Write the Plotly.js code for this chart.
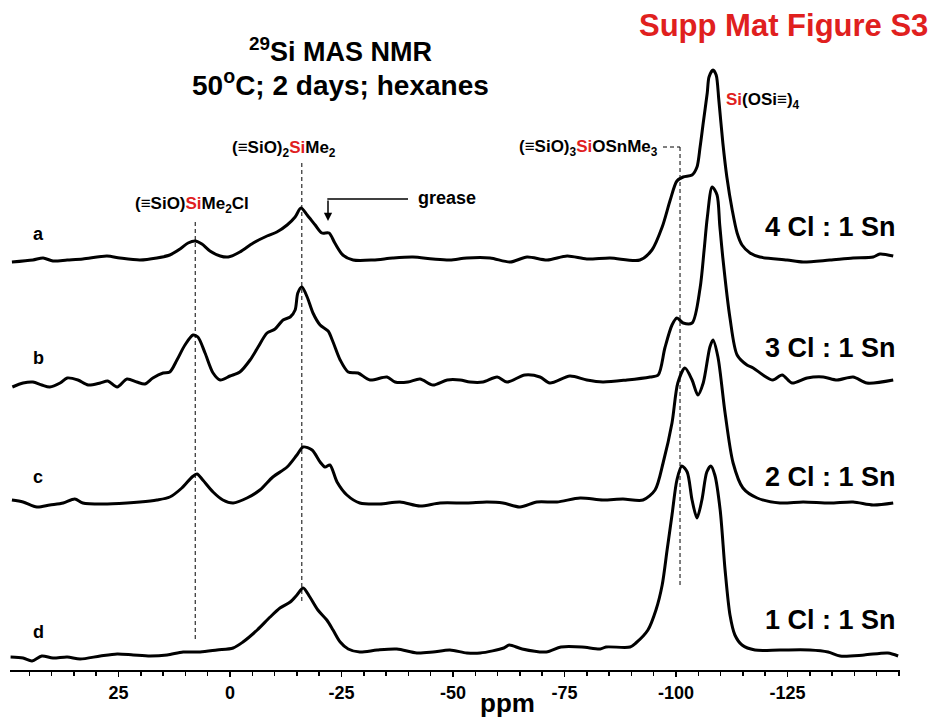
<!DOCTYPE html>
<html>
<head>
<meta charset="utf-8">
<script src="https://cdn.plot.ly/plotly-3.0.1.min.js"></script>
<style>html,body{margin:0;padding:0;background:#fff;}#chart{width:935px;height:723px;}</style>
</head>
<body>
<div id="chart"></div>
<script>
// ---- data (ppm, relative intensity) ----
const ppmA = [48.9,44.2,41.9,39.7,36.5,33.0,27.6,24.7,20.2,16.4,13.5,11.2,9.4,7.8,6.3,4.5,2.2,0.4,-2.2,-5.2,-8.3,-10.5,-12.8,-14.6,-15.9,-17.3,-19.1,-20.6,-22.2,-23.5,-25.3,-27.6,-32.1,-36.5,-41.0,-45.5,-49.3,-53.1,-58.3,-62.8,-66.6,-71.1,-75.6,-80.0,-85.2,-91.9,-94.6,-96.9,-98.7,-100.2,-101.6,-103.6,-104.7,-105.4,-106.1,-107.0,-107.4,-108.3,-109.0,-109.6,-110.5,-111.4,-112.6,-113.7,-114.8,-116.6,-118.8,-124.9,-128.5,-134.5,-139.7,-144.2,-145.7,-148.7];
const intA = [-2,0,2,-1,0,1,4,2,0,2,5,11,17,19,16,9,4,3,8,17,24,28,35,43,52,45,35,27,27,17,5,0,0,2,3,1,0,2,2,-2,3,0,4,1,2,0,10,33,60,79,83,85,93,113,137,167,183,190,185,160,117,83,50,27,15,7,3,0,-2,0,2,3,6,4];

const ppmB = [48.8,46.4,44.2,42.2,40.4,38.1,36.5,34.1,31.8,29.1,27.4,25.3,23.1,20.9,19.1,17.3,15.0,13.5,11.9,10.1,8.3,7.2,5.6,3.8,2.2,0,-2.2,-4.5,-6.3,-8.3,-10.1,-11.9,-13.5,-14.6,-15.2,-16.1,-17.3,-18.6,-20.2,-22.0,-23.1,-24.7,-26.5,-28.7,-31.4,-35.2,-37.0,-39.9,-42.6,-45.5,-48.7,-51.6,-53.8,-56.7,-59.9,-62.1,-66.1,-69.5,-71.7,-76.2,-80.0,-83.6,-89.0,-94.2,-96.0,-97.5,-99.1,-100.2,-101.6,-103.6,-105.4,-106.3,-107.0,-108.1,-109.2,-109.8,-110.5,-112.1,-113.7,-115.9,-117.3,-119.5,-121.7,-123.8,-126.0,-129.4,-133.0,-136.1,-139.7,-142.8,-148.7];
const intB = [-6,-2,-1,-4,-6,-2,3,1,-4,-2,0,-6,2,-1,-3,3,8,9,21,36,46,44,28,8,1,5,9,21,34,48,52,61,64,71,88,94,84,68,56,50,39,21,9,8,1,4,-1,-1,2,-4,1,1,-1,-1,4,-1,6,4,-2,5,1,-1,1,4,6,33,56,63,58,58,93,131,163,194,186,156,123,63,26,16,13,6,1,6,-2,3,4,1,4,-2,1];

const ppmC = [48.9,46.4,43.3,40.4,37.4,34.8,33.0,28.5,23.1,20.2,16.4,13.5,10.8,8.5,7.4,6.1,3.8,1.6,-0.7,-3.8,-6.7,-9.6,-12.8,-15.0,-16.4,-18.4,-20.2,-21.3,-22.4,-24.0,-26.2,-29.1,-33.6,-38.1,-42.6,-47.1,-53.1,-57.6,-61.2,-65.0,-68.8,-73.3,-78.5,-83.6,-88.1,-92.6,-95.3,-97.1,-99.1,-100.4,-102.0,-103.6,-104.9,-106.1,-107.6,-108.3,-109.4,-111.0,-112.8,-115.0,-118.2,-123.3,-128.5,-134.5,-139.7,-144.2,-148.7];
const intC = [3,1,-4,-2,0,4,0,-1,0,1,3,6,15,26,29,23,11,3,0,5,13,26,36,48,56,53,41,36,38,21,8,0,-1,1,-3,0,0,1,0,-4,1,1,5,3,4,3,13,40,80,120,135,123,108,120,156,163,146,90,40,15,5,0,1,0,1,-2,0];

const ppmD = [49.2,46.4,44.4,42.2,39.7,36.5,33.6,29.1,25.3,21.7,17.9,14.1,10.5,6.7,2.9,-0.7,-2.9,-6.1,-9.0,-11.2,-13.5,-15.0,-16.4,-17.9,-19.7,-21.7,-23.1,-24.7,-26.5,-29.1,-33.0,-37.4,-41.9,-45.5,-49.3,-53.1,-56.1,-61.4,-62.6,-65.5,-70.9,-74.2,-78.9,-83.0,-84.3,-89.7,-91.0,-93.7,-95.5,-96.9,-98.0,-99.1,-100.2,-101.3,-102.5,-103.6,-104.7,-105.8,-106.9,-107.8,-108.7,-109.9,-111.0,-112.1,-113.2,-114.8,-117.7,-123.3,-130.0,-134.1,-136.8,-142.2,-147.5,-149.8];
const intD = [-5,-6,-9,-4,-6,-5,-7,-4,-2,-3,-4,-3,0,0,2,4,10,22,35,44,50,57,64,55,42,32,22,10,3,0,2,3,-1,0,2,-1,-1,4,7,3,0,5,5,3,5,5,9,22,42,67,102,137,172,186,180,152,134,152,180,186,177,142,82,37,17,7,2,2,2,0,-4,-3,-1,-4];

const sampleLetters = ['a','b','c','d'];
const ratioLabels = ['4 Cl : 1 Sn','3 Cl : 1 Sn','2 Cl : 1 Sn','1 Cl : 1 Sn'];
const stackOffsets = [410, 289, 167, 18];
const tickVals = [25, 0, -25, -50, -75, -100, -125];
const tickText = ['25', '0', '-25', '-50', '-75', '-100', '-125'];
const refLines = [7.8, -16.1, -100.9]; // ppm of dashed guide lines

// ---- build ----
const series = [[ppmA,intA],[ppmB,intB],[ppmC,intC],[ppmD,intD]];
const traces = series.map((s,i)=>({
  x: s[0],
  y: s[1].map(v=>v+stackOffsets[i]),
  type:'scatter', mode:'lines',
  line:{color:'#000', width:3, shape:'spline', smoothing:0.8},
  hoverinfo:'skip', showlegend:false
}));

// pixel helpers (plot area: x 10..900, y 0..670)
const PX = p => (p-10)/890;
const PY = p => (670-p)/670;
const F = 'Liberation Sans, Arial, sans-serif';
function ann(text, px, py, size, xanchor, color){
  return {text:text, x:PX(px), y:PY(py), xref:'paper', yref:'paper', showarrow:false,
    xanchor:xanchor||'center', yanchor:'middle',
    font:{family:F, size:size, color:color||'#000', weight:'bold'}};
}
const RED = '#e0201e';
const red = s => '<span style="color:'+RED+'">'+s+'</span>';

const annotations = [
  ann('<sup>29</sup>Si MAS NMR', 340, 50, 27),
  ann('50<sup>o</sup>C; 2 days; hexanes', 340, 83, 28),
  ann('Supp Mat Figure S3', 930, 26, 31, 'right', RED),
  ann(red('Si')+'(OSi≡)<sub>4</sub>', 724, 101, 17, 'left'),
  ann('(≡SiO)<sub>3</sub>'+red('Si')+'OSnMe<sub>3</sub>', 660, 148, 17, 'right'),
  ann('(≡SiO)<sub>2</sub>'+red('Si')+'Me<sub>2</sub>', 284, 149, 17),
  ann('(≡SiO)'+red('Si')+'Me<sub>2</sub>Cl', 192, 205, 17),
  ann('grease', 416, 198, 18, 'left'),
  ann('ppm', 507, 703, 26),
];
const letterY = [234, 358, 477, 632];
sampleLetters.forEach((t,i)=>annotations.push(ann(t, 38, letterY[i], 18)));
const ratioY = [227, 348, 477, 620];
ratioLabels.forEach((t,i)=>annotations.push(ann(t, 898, ratioY[i], 27, 'right')));
// grease arrow tip
annotations.push({x:PX(328), y:PY(221), xref:'paper', yref:'paper', ax:0, ay:-22, axref:'pixel', ayref:'pixel',
  showarrow:true, arrowhead:2, arrowsize:1.1, arrowwidth:1.5, arrowcolor:'#000', text:''});

const dash = {color:'#000', width:1, dash:'4px,3px'};
const shapes = [
  {type:'line', xref:'x', yref:'paper', x0:refLines[0], x1:refLines[0], y0:PY(222), y1:PY(640), line:dash},
  {type:'line', xref:'x', yref:'paper', x0:refLines[1], x1:refLines[1], y0:PY(163), y1:PY(602), line:dash},
  {type:'line', xref:'x', yref:'paper', x0:refLines[2], x1:refLines[2], y0:PY(147), y1:PY(585), line:dash},
  {type:'line', xref:'paper', yref:'paper', x0:PX(663), x1:PX(680), y0:PY(147), y1:PY(147), line:dash},
  {type:'line', xref:'paper', yref:'paper', x0:PX(408), x1:PX(327.3), y0:PY(199), y1:PY(199), line:{color:'#000', width:1.5}},
];

const layout = {
  width:935, height:723,
  margin:{l:10, r:35, t:0, b:53, pad:0},
  paper_bgcolor:'#fff', plot_bgcolor:'#fff',
  showlegend:false,
  xaxis:{range:[49.33,-150.22], showline:true, linecolor:'#000', linewidth:2,
    showgrid:false, zeroline:false, ticks:'outside', ticklen:5, tickwidth:1.5, tickcolor:'#000',
    tickmode:'array', tickvals:tickVals, ticktext:tickText,
    tickfont:{family:F, size:18, color:'#000', weight:'bold'},
    minor:{tickmode:'linear', tick0:0, dtick:5, ticks:'outside', ticklen:4, tickwidth:1.5, tickcolor:'#000', showgrid:false},
    fixedrange:true},
  yaxis:{range:[0,670], visible:false, fixedrange:true},
  annotations:annotations,
  shapes:shapes
};
Plotly.newPlot('chart', traces, layout, {displayModeBar:false, staticPlot:true});
</script>
</body>
</html>
